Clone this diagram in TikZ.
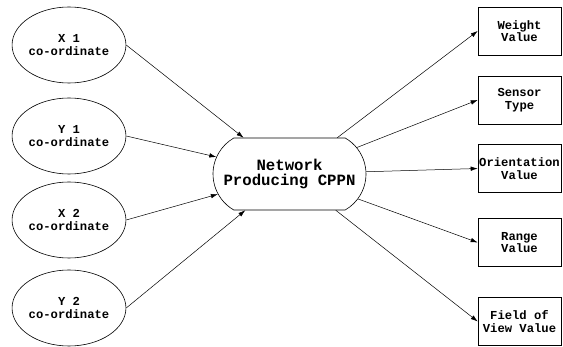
\documentclass[tikz,border=0pt]{standalone}
\usepackage{fontspec}
\setmonofont{Liberation Mono}
\usetikzlibrary{arrows.meta,shapes.misc,shapes.geometric}

\begin{document}
\begin{tikzpicture}[x=1pt, y=-1pt,
    every node/.style={font=\ttfamily\bfseries\fontsize{12.2}{12.5}\selectfont, align=center, inner sep=0pt, line width=0.6pt},
    coord/.style={ellipse, draw, minimum width=108pt, minimum height=76pt},
    outbox/.style={rectangle, draw, minimum width=83pt, minimum height=48pt},
    link/.style={line width=0.5pt, -{Latex[length=7pt,width=4.5pt]}}]

        \useasboundingbox (0,0) rectangle (563,347);

        % Ingressi
        \node[coord] (x1) at (69,45) {X 1\\co-ordinate};
        \node[coord] (y1) at (69,136) {Y 1\\co-ordinate};
        \node[coord] (x2) at (69,220) {X 2\\co-ordinate};
        \node[coord] (y2) at (69,308) {Y 2\\co-ordinate};
        % Rete centrale
        \node[rounded rectangle, rounded rectangle arc length=120, draw, minimum width=153pt, minimum height=72pt,
              font=\ttfamily\bfseries\fontsize{15.7}{15.5}\selectfont] (cppn) at (289.5,174) {Network\\Producing CPPN};
        % Uscite
        \node[outbox] (weight) at (519.5,31) {Weight\\Value};
        \node[outbox] (sensor) at (519.5,100) {Sensor\\Type};
        \node[outbox] (orient) at (519.5,168.5) {Orientation\\Value};
        \node[outbox] (range) at (519.5,242.5) {Range\\Value};
        \node[outbox] (fov) at (519.5,321.5) {Field of\\View Value};
        % Archi
        \draw[link] (x1.east) -- (cppn);
        \draw[link] (y1.east) -- (cppn);
        \draw[link] (x2.east) -- (cppn);
        \draw[link] (y2.east) -- (cppn);
        \draw[link] (cppn) -- (weight.west);
        \draw[link] (cppn) -- (sensor.west);
        \draw[link] (cppn) -- (orient.west);
        \draw[link] (cppn) -- (range.west);
        \draw[link] (cppn) -- (fov.west);
    \end{tikzpicture}
\end{document}
